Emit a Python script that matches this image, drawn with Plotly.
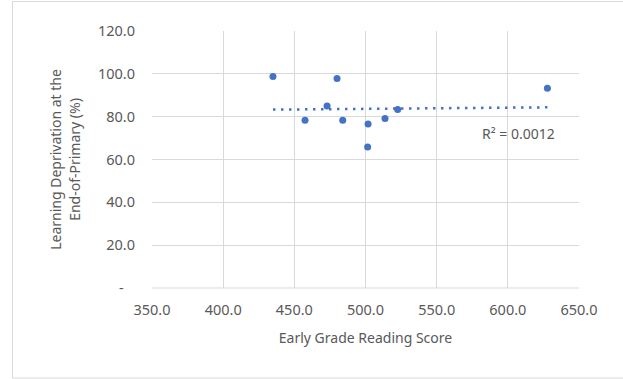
import numpy as np
import plotly.graph_objects as go

# Early grade reading score vs. learning deprivation at end of primary
reading_score = [435.0, 457.5, 473.0, 480.0, 484.0, 501.8, 501.5, 513.7, 522.6, 627.8]
deprivation = [98.8, 78.3, 85.0, 97.8, 78.3, 76.6, 65.8, 79.2, 83.4, 93.3]

x_ticks = [350, 400, 450, 500, 550, 600, 650]
x_ticktext = ["350.0", "400.0", "450.0", "500.0", "550.0", "600.0", "650.0"]
y_ticks = [0, 20, 40, 60, 80, 100, 120]
y_ticktext = ["-\u00a0\u00a0\u00a0", "20.0", "40.0", "60.0", "80.0", "100.0", "120.0"]
r2_label = "R\u00b2 = 0.0012"

BLUE = "#4472C4"
GRID = "#D9D9D9"
TEXT = "#595959"
FONT = "Noto Sans"
TICK_SIZE = 14.5
TITLE_SIZE = 14

# linear trendline fitted to the points
slope, intercept = np.polyfit(reading_score, deprivation, 1)
tx = np.array([min(reading_score), max(reading_score)])
ty = slope * tx + intercept

W, H = 623, 379
L, R, T, B = 152, 44, 31, 91
pw, ph = W - L - R, H - T - B


def px_x(p):
    return (p - L) / pw


def px_y(p):
    return (H - B - p) / ph


fig = go.Figure()
fig.add_trace(go.Scatter(
    x=tx, y=ty, mode="lines",
    line=dict(color=BLUE, width=2.5, dash="2.5px,5.5px"),
    hoverinfo="skip", showlegend=False,
))
fig.add_trace(go.Scatter(
    x=reading_score, y=deprivation, mode="markers",
    marker=dict(color=BLUE, size=7),
    showlegend=False,
))

fig.add_annotation(
    x=px_x(518), y=px_y(133), xref="paper", yref="paper", text=r2_label,
    xanchor="center", yanchor="middle",
    showarrow=False, font=dict(family=FONT, size=TITLE_SIZE, color=TEXT),
)

axis_common = dict(
    showgrid=True, gridcolor=GRID, gridwidth=1,
    zeroline=False, showline=False, ticks="",
    tickfont=dict(family=FONT, size=TICK_SIZE, color=TEXT),
)

fig.update_xaxes(
    range=[350, 650], tickmode="array", tickvals=x_ticks, ticktext=x_ticktext,
    ticklabelstandoff=11,
    title=dict(text="Early Grade Reading Score",
               font=dict(family=FONT, size=TITLE_SIZE, color=TEXT), standoff=15),
    **axis_common,
)
fig.update_yaxes(
    range=[0, 120], tickmode="array", tickvals=y_ticks, ticktext=y_ticktext,
    ticklabelstandoff=16,
    title=dict(text="Learning Deprivation at the<br>End-of-Primary (%)",
               font=dict(family=FONT, size=TITLE_SIZE, color=TEXT), standoff=14),
    **axis_common,
)

# outer chart border and bottom axis line
fig.add_shape(type="rect", xref="paper", yref="paper",
              x0=px_x(12.5), x1=px_x(630), y0=px_y(378), y1=px_y(1.5),
              line=dict(color=GRID, width=1), layer="below")
fig.add_shape(type="line", xref="paper", yref="paper",
              x0=0, x1=1, y0=0, y1=0, line=dict(color=GRID, width=1))

fig.update_layout(
    width=W, height=H,
    margin=dict(l=L, r=R, t=T, b=B),
    paper_bgcolor="white", plot_bgcolor="white",
    font=dict(family=FONT, color=TEXT),
)

fig.write_html("out.html")
